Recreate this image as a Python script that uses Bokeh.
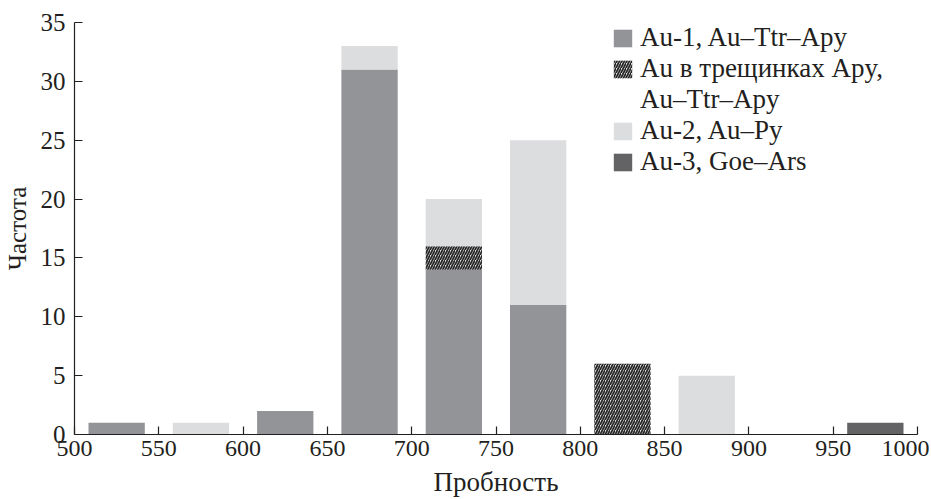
import numpy as np
from bokeh.plotting import figure
from bokeh.models import ColumnDataSource, Legend, LegendItem, Range1d, FixedTicker
from bokeh.embed import file_html
from bokeh.resources import INLINE

# Bin centres (Пробность), bin width 50
bin_centers = [525, 575, 625, 675, 725, 775, 825, 875, 925, 975]
au1 = [1, 0, 2, 31, 14, 11, 0, 0, 0, 0]      # Au-1, Au–Ttr–Apy
au_cracks = [0, 0, 0, 0, 2, 0, 6, 0, 0, 0]   # Au в трещинках Apy, Au–Ttr–Apy
au2 = [0, 1, 0, 2, 4, 14, 0, 5, 0, 0]        # Au-2, Au–Py
au3 = [0, 0, 0, 0, 0, 0, 0, 0, 0, 1]         # Au-3, Goe–Ars
x_ticks = [500, 550, 600, 650, 700, 750, 800, 850, 900, 950, 1000]
y_ticks = [0, 5, 10, 15, 20, 25, 30, 35]

FONT = "Liberation Serif"
TXT = "#231f20"

p = figure(width=929, height=507, output_backend="svg", toolbar_location=None,
           x_range=Range1d(500, 1000), y_range=Range1d(0, 35),
           min_border_left=74, min_border_top=22, min_border_right=12, min_border_bottom=73)
p.outline_line_color = None
p.xgrid.visible = False
p.ygrid.visible = False
p.background_fill_color = "white"

series = [au1, au_cracks, au2, au3]
cum = np.zeros(len(bin_centers))
styles = [
    dict(fill_color="#939497"),
    dict(fill_color="#e2e2e2", hatch_pattern="/", hatch_color="#262626", hatch_scale=5, hatch_weight=1.7),
    dict(fill_color="#dcdddf"),
    dict(fill_color="#636365"),
]
renderers = []
for vals, st in zip(series, styles):
    v = np.array(vals, dtype=float)
    src = ColumnDataSource(dict(x=bin_centers, bottom=cum.copy(), top=cum + v))
    r = p.vbar(x="x", bottom="bottom", top="top", width=33.4, source=src, line_color=None, **st)
    renderers.append(r)
    cum = cum + v

# invisible renderer for second legend line
dummy = p.vbar(x=[0], top=[0], width=1, fill_alpha=0, line_alpha=0)

items = [
    LegendItem(label="Au-1, Au–Ttr–Apy", renderers=[renderers[0]]),
    LegendItem(label="Au в трещинках Apy,", renderers=[renderers[1]]),
    LegendItem(label="Au–Ttr–Apy", renderers=[dummy]),
    LegendItem(label="Au-2, Au–Py", renderers=[renderers[2]]),
    LegendItem(label="Au-3, Goe–Ars", renderers=[renderers[3]]),
]
legend = Legend(items=items, location=(537, 257), border_line_color=None,
                background_fill_alpha=0, label_text_font=FONT, label_text_font_size="27px",
                label_text_color=TXT, glyph_width=23, glyph_height=22,
                label_height=27, spacing=0, padding=0, margin=0, label_standoff=6)
p.add_layout(legend)

for ax in (p.xaxis[0], p.yaxis[0]):
    ax.axis_line_color = TXT
    ax.axis_line_width = 1.2
    ax.major_tick_line_color = TXT
    ax.major_tick_line_width = 1.2
    ax.major_tick_in = 8
    ax.major_tick_out = 0
    ax.minor_tick_line_color = None
    ax.major_label_text_font = FONT
    ax.major_label_text_color = TXT
    ax.axis_label_text_font = FONT
    ax.axis_label_text_font_style = "normal"
    ax.axis_label_text_color = TXT

p.xaxis.ticker = FixedTicker(ticks=x_ticks)
p.yaxis.ticker = FixedTicker(ticks=y_ticks)
p.xaxis.major_label_text_font_size = "24px"
p.yaxis.major_label_text_font_size = "25px"
p.xaxis.axis_label_text_font_size = "27px"
p.yaxis.axis_label_text_font_size = "25px"
p.xaxis.axis_label = "Пробность"
p.yaxis.axis_label = "Частота"
p.xaxis.major_label_standoff = 6
p.yaxis.major_label_standoff = 9
p.xaxis.axis_label_standoff = 8
p.yaxis.axis_label_standoff = 7

open("out.html", "w").write(file_html(p, INLINE))
